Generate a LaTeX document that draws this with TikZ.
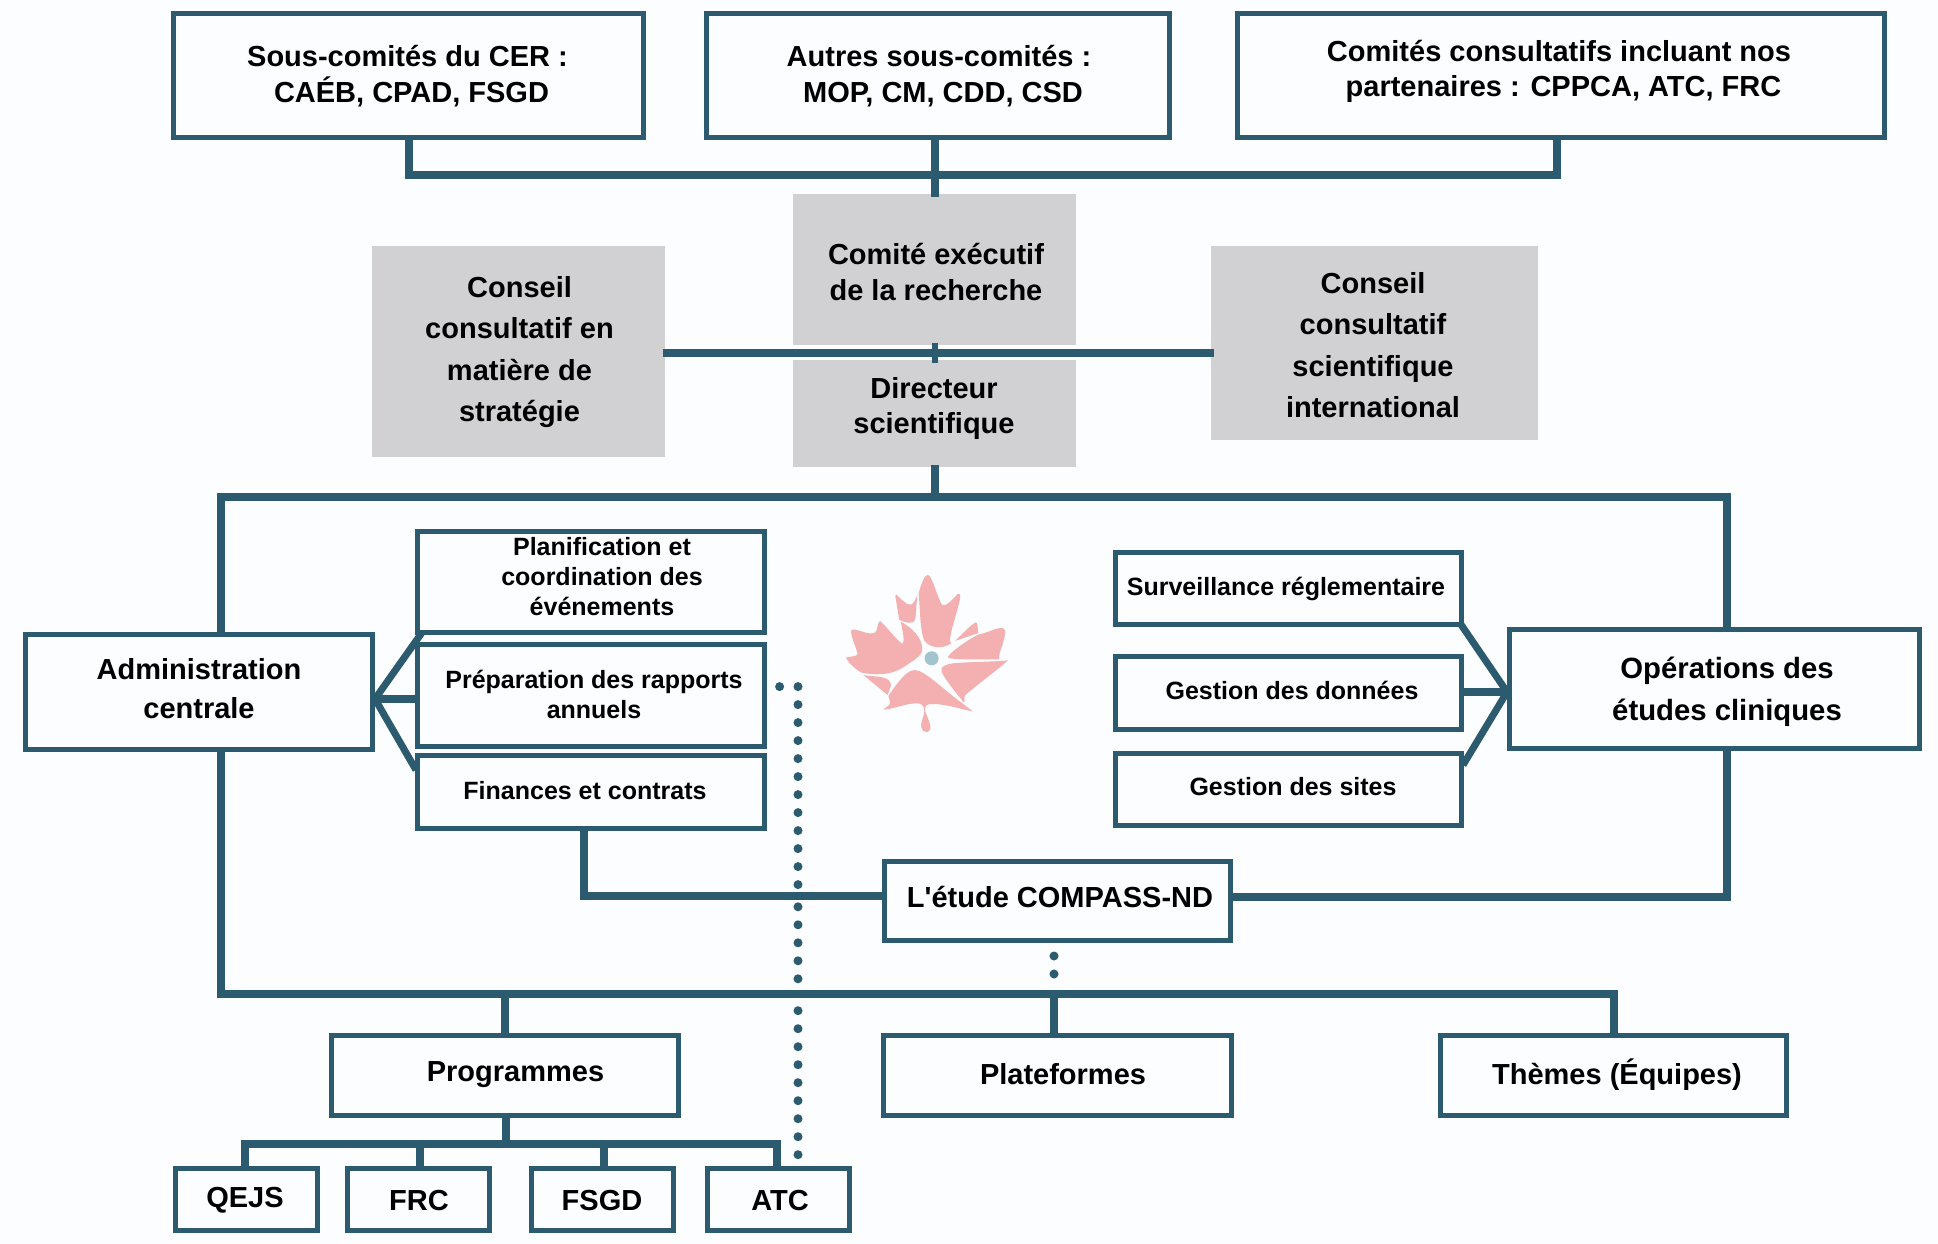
\documentclass[tikz,border=0pt]{standalone}
\usepackage{fontspec}
\setmainfont{Liberation Sans}
\newfontfamily\aposfont{Liberation Sans}
\definecolor{teal}{HTML}{2C5A6E}
\definecolor{greybox}{HTML}{D1D1D3}
\definecolor{paper}{HTML}{FBFDFF}
\definecolor{leaf}{HTML}{F4B0B0}
\definecolor{hub}{HTML}{A3C3CE}
\tikzset{
 framebox/.style={draw=teal,line width=5pt,fill=paper,inner sep=0pt,outer sep=0pt},
 greycard/.style={draw=greybox,line width=5pt,fill=greybox,inner sep=0pt,outer sep=0pt},
 caption/.style={inner sep=0pt,align=center,text=black},
 conn/.style={draw=teal,line width=8pt,line join=miter},
 spoke/.style={draw=teal,line width=7pt},
 dots/.style={draw=teal,line width=9pt,line cap=round,dash pattern=on 0pt off 18pt},
 petal/.style={fill=leaf,draw=none}
}
% name, style, x0, y0, x1, y1 (outer edges)
\newcommand{\bx}[6]{\node[#2,minimum width={#5-#3-5},minimum height={#6-#4-5}] (#1) at ({(#3+#5)/2},{(#4+#6)/2}) {};}
% name, x, y, size, leading, text
\newcommand{\tx}[6]{\node[caption,font=\bfseries\fontsize{#4}{#5}\selectfont] (#1) at (#2,#3) {#6};}
\begin{document}
\begin{tikzpicture}[x=1pt,y=-1pt]
\useasboundingbox[fill=paper] (0,0) rectangle (1938,1244);

% junctions
\coordinate (t1) at (409,175);
\coordinate (t2) at (935,175);
\coordinate (t3) at (1557,175);
\coordinate (m1) at (221,497);
\coordinate (m2) at (935,497);
\coordinate (m3) at (1727,497);
\coordinate (b1) at (221,994);
\coordinate (b2) at (505,994);
\coordinate (b3) at (1054,994);
\coordinate (b4) at (1614,994);
\coordinate (c1) at (584,896);
\coordinate (c2) at (1727,897);
\coordinate (s0) at (506,1144);
\coordinate (s1) at (245,1144);
\coordinate (s2) at (419.5,1144);
\coordinate (s3) at (604,1144);
\coordinate (s4) at (776.5,1144);
\coordinate (h1) at (935,353);
\coordinate (ah) at (375,699);
\coordinate (oh) at (1507,692);

% boxes
\bx{sous}{framebox}{171}{11}{646}{140}
\bx{autres}{framebox}{704}{11}{1172}{140}
\bx{comites}{framebox}{1235}{11}{1887}{140}
\bx{exec}{greycard}{793}{194}{1076}{345}
\bx{dir}{greycard}{793}{360}{1076}{467}
\bx{strat}{greycard}{372}{246}{665}{457}
\bx{intl}{greycard}{1211}{246}{1538}{440}
\bx{admin}{framebox}{23}{632}{375}{752}
\bx{planif}{framebox}{415}{529}{767}{635}
\bx{prep}{framebox}{415}{642}{767}{749}
\bx{fin}{framebox}{415}{753}{767}{831}
\bx{surv}{framebox}{1113}{550}{1464}{627}
\bx{donnees}{framebox}{1113}{654}{1464}{732}
\bx{sites}{framebox}{1113}{751}{1464}{828}
\bx{oper}{framebox}{1507}{627}{1922}{751}
\bx{compass}{framebox}{882}{859}{1233}{943}
\bx{prog}{framebox}{329}{1033}{681}{1118}
\bx{plat}{framebox}{881}{1033}{1234}{1118}
\bx{themes}{framebox}{1438}{1033}{1789}{1118}
\bx{qejs}{framebox}{173}{1166}{320}{1233}
\bx{frc}{framebox}{345}{1166}{492}{1233}
\bx{fsgd}{framebox}{529}{1166}{676}{1233}
\bx{atc}{framebox}{705}{1166}{852}{1233}

% connectors
\draw[conn] (sous.south -| t1) -- (t1) -- (t3) -- (comites.south -| t3);
\draw[conn] (autres.south -| t2) -- (exec.north -| t2);
\draw[conn] (strat.east |- h1) -- (intl.west |- h1);
\draw[spoke,line width=6pt] (exec.south -| h1) -- (dir.north -| h1);
\draw[conn] (dir.south -| m2) -- (m2);
\draw[conn] (admin.north -| m1) -- (m1) -- (m3) -- (oper.north -| m3);
\draw[conn] (admin.south -| b1) -- (b1) -- (b4) -- (themes.north -| b4);
\draw[conn] (b2) -- (prog.north -| b2);
\draw[conn] (b3) -- (plat.north -| b3);
\draw[conn] (fin.south -| c1) -- (c1) -- (compass.west |- c1);
\draw[conn] (oper.south -| c2) -- (c2) -- (compass.east |- c2);
\draw[conn] (prog.south -| s0) -- (s0);
\draw[conn] (qejs.north -| s1) -- (s1) -- (s4) -- (atc.north -| s4);
\draw[conn] (s2) -- (frc.north -| s2);
\draw[conn] (s3) -- (fsgd.north -| s3);
\draw[conn] (ah) -- (prep.west |- ah);
\draw[conn] (oh) -- (donnees.east |- oh);
\draw[spoke] (ah) -- (planif.south -| 422,0);
\draw[spoke] (ah) -- (416,770);
\draw[spoke] (oh) -- (surv.south -| 1461,0);
\draw[spoke] (oh) -- (1463,765);

% dotted links
\coordinate (d0) at (798,686.6);
\coordinate (d1) at (798,893);
\coordinate (d2) at (798,906.8);
\coordinate (d3) at (798,985);
\coordinate (d4) at (798,1010.7);
\coordinate (d5) at (798,1160);
\coordinate (d6) at (779.6,686.6);
\draw[dots] (d0) -- (d1);
\draw[dots] (d2) -- (d3);
\draw[dots] (d4) -- (d5);
\fill[teal] (d6) circle (4.5);
\coordinate (e0) at (1054,956);
\coordinate (e1) at (1054,974);
\fill[teal] (e0) circle (4.5);
\fill[teal] (e1) circle (4.5);

% texts
\tx{sous-t}{407.5}{76}{29}{35.5}{Sous-comités du CER :\\\hspace*{8pt}CAÉB, CPAD, FSGD}
\tx{autres-t}{939}{76}{29}{35.5}{Autres sous-comités :\\\hspace*{8pt}MOP, CM, CDD, CSD}
\tx{comites-t}{1559}{71}{29}{35}{Comités consultatifs incluant nos\\\hspace*{9pt}partenaires : CPPCA, ATC, FRC}
\tx{exec-t}{936}{272}{29}{35.5}{Comité exécutif\\de la recherche}
\tx{dir-t}{934}{408}{29}{35}{Directeur\\scientifique}
\tx{strat-t}{519.5}{352}{29}{41.5}{Conseil\\consultatif en\\matière de\\stratégie}
\tx{intl-t}{1373}{345}{29}{41.5}{Conseil\\consultatif\\scientifique\\international}
\tx{admin-t}{199}{688.5}{29}{38.5}{Administration\\centrale}
\tx{planif-t}{602}{577}{25}{30}{Planification et\\coordination des\\événements}
\tx{prep-t}{594}{694}{25}{30}{Préparation des rapports\\annuels}
\tx{fin-t}{585}{791}{25}{30}{Finances et contrats}
\tx{surv-t}{1286}{589}{25}{30}{Surveillance réglementaire}
\tx{donnees-t}{1292}{690}{25}{30}{Gestion des données}
\tx{sites-t}{1293}{787}{25}{30}{Gestion des sites}
\tx{oper-t}{1727}{692}{29.3}{42}{Opérations des\\études cliniques}
\tx{compass-t}{1060}{897}{29}{34}{L{\aposfont\bfseries'}étude COMPASS-ND}
\tx{prog-t}{515.5}{1075}{29}{34}{Programmes}
\tx{plat-t}{1063}{1074}{29}{34}{Plateformes}
\tx{themes-t}{1617}{1075}{29}{34}{Thèmes (Équipes)}
\tx{qejs-t}{245}{1200}{29}{34}{QEJS}
\tx{frc-t}{419}{1201}{29}{34}{FRC}
\tx{fsgd-t}{602}{1201}{29}{34}{FSGD}
\tx{atc-t}{780}{1201}{29}{34}{ATC}

% emblem
\begin{scope}[shift={(780,540)},x=0.3333pt,y=-0.3333pt]
\fill[petal] (416,160) .. controls (425,125) and (435,105) .. (443,105) .. controls (455,105) and (465,150) .. (483,190) .. controls (490,202) and (500,198) .. (533,162) .. controls (542,158) and (541,170) .. (540,178) .. controls (530,220) and (510,280) .. (510,300) .. controls (510,312) and (520,310) .. (510,312) .. controls (490,325) and (450,328) .. (432,300) .. controls (420,270) and (420,200) .. (416,160) -- cycle;
\fill[petal] (346,168) .. controls (345,162) and (350,163) .. (356,170) .. controls (372,187) and (385,197) .. (395,193) .. controls (403,188) and (408,175) .. (412,163) .. controls (408,195) and (410,235) .. (402,245) .. controls (392,252) and (372,246) .. (358,240) -- cycle;
\fill[petal] (362,245) .. controls (400,265) and (425,295) .. (427,325) .. controls (428,350) and (400,360) .. (370,382) .. controls (330,408) and (280,405) .. (245,398) .. controls (230,390) and (205,370) .. (198,353) .. controls (205,348) and (230,352) .. (233,342) .. controls (228,320) and (210,285) .. (214,270) .. controls (225,262) and (265,288) .. (285,278) .. controls (295,270) and (290,250) .. (300,243) .. controls (320,260) and (350,300) .. (366,311) .. controls (376,310) and (368,270) .. (362,245) -- cycle;
\fill[petal] (250,405) .. controls (285,412) and (325,405) .. (333,432) .. controls (333,445) and (325,455) .. (323,465) -- cycle;
\fill[petal] (325,468) .. controls (345,440) and (375,392) .. (403,390) .. controls (435,390) and (490,450) .. (550,492) .. controls (560,500) and (570,508) .. (578,514) .. controls (550,510) and (500,492) .. (460,492) .. controls (440,492) and (432,495) .. (436,515) .. controls (445,540) and (462,570) .. (442,576) .. controls (420,576) and (420,555) .. (430,530) .. controls (436,510) and (435,490) .. (410,490) .. controls (375,490) and (335,510) .. (310,508) .. controls (320,500) and (335,495) .. (329,480) -- cycle;
\fill[petal] (684,361) .. controls (640,400) and (590,435) .. (556,465) .. controls (548,475) and (558,485) .. (552,488) .. controls (530,460) and (495,420) .. (485,395) .. controls (480,380) and (495,373) .. (520,370) .. controls (570,365) and (640,366) .. (684,361) -- cycle;
\fill[petal] (657,358) .. controls (610,358) and (530,360) .. (505,354) .. controls (495,348) and (560,300) .. (597,283) .. controls (620,280) and (650,262) .. (668,264) .. controls (680,268) and (675,285) .. (672,298) .. controls (668,320) and (655,340) .. (657,358) -- cycle;
\fill[petal] (525,303) .. controls (545,285) and (570,255) .. (588,247) .. controls (595,250) and (592,265) .. (595,279) -- cycle;
\fill[hub] (455,355) circle (21);
\end{scope}
\end{tikzpicture}
\end{document}
